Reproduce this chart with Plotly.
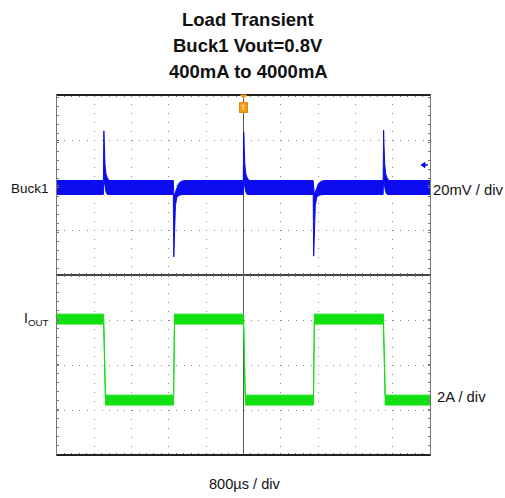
import plotly.graph_objects as go
from plotly.subplots import make_subplots

# ---------------- data ----------------
# time in ms, trigger at 0; 800 us/div, 10 div
time_range_ms = [-4.0, 4.0]

# Buck1 output deviation, upper / lower envelope of the trace (mV)
buck1_t = [-4.0, -3.005, -2.995, -2.985, -2.97, -2.95, -2.92, -2.88,
           -1.505, -1.495, -1.48, -1.46, -1.43, -1.39, -1.33, -1.25,
           -0.005, 0.005, 0.015, 0.03, 0.05, 0.08, 0.12,
           1.495, 1.505, 1.52, 1.54, 1.57, 1.61, 1.67, 1.75,
           2.995, 3.005, 3.015, 3.03, 3.05, 3.08, 3.12, 4.0]
buck1_hi = [3.1, 3.1, 25.2, 18.0, 10.0, 6.0, 4.2, 3.1,
            3.1, -2.9, -3.5, -2.0, 0.0, 1.8, 2.8, 3.1,
            3.1, 24.8, 18.0, 10.0, 6.0, 4.2, 3.1,
            3.1, -2.9, -3.5, -2.0, 0.0, 1.8, 2.8, 3.1,
            3.1, 25.5, 18.0, 10.0, 6.0, 4.2, 3.1, 3.1]
buck1_lo = [-3.1, -3.1, 4.0, 2.5, 0.0, -2.0, -3.1, -3.1,
            -3.1, -30.8, -18.0, -8.0, -4.5, -3.6, -3.2, -3.1,
            -3.1, 4.0, 2.5, 0.0, -2.0, -3.1, -3.1,
            -3.1, -30.5, -18.0, -8.0, -4.5, -3.6, -3.2, -3.1,
            -3.1, 4.0, 2.5, 0.0, -2.0, -3.1, -3.1, -3.1]

# Output current, upper / lower envelope (A): 4 A <-> 0.4 A steps
iout_t = [-4.0, -3.0, -2.96, -1.5, -1.48, 0.0, 0.04, 1.5, 1.52, 3.0, 3.04, 4.0]
iout_hi = [4.22, 4.22, 0.62, 0.62, 4.22, 4.22, 0.62, 0.62, 4.22, 4.22, 0.62, 0.62]
iout_lo = [3.78, 3.78, 0.18, 0.18, 3.78, 3.78, 0.18, 0.18, 3.78, 3.78, 0.18, 0.18]

# vertical scales: 20 mV/div and 2 A/div, 4 divisions per half screen
mv_range = [-38.9, 41.1]
amp_range = [-2.04, 5.96]
mv_per_div, amp_per_div, ms_per_div = 20, 2, 0.8

title_lines = ["Load Transient", "Buck1 Vout=0.8V", "400mA to 4000mA"]
ch1_label, ch1_scale = "Buck1", "20mV / div"
ch2_label, ch2_scale = "I<sub>OUT</sub>", "2A / div"
time_scale = "800µs / div"
trigger_time = 0.0

BLUE = "#0b0bf0"
GREEN = "#12e012"

# ---------------- figure ----------------
W, H = 505, 498
L, R, T, B = 57, 75, 95, 43
PW, PH = W - L - R, H - T - B


def px(xp):
    return (xp - L) / PW


def py(yp):
    return (H - B - yp) / PH


fig = make_subplots(rows=2, cols=1, shared_xaxes=True, vertical_spacing=0)

fig.add_trace(go.Scatter(x=buck1_t, y=buck1_lo, mode="lines",
                         line=dict(color=BLUE, width=1), hoverinfo="skip", showlegend=False), 1, 1)
fig.add_trace(go.Scatter(x=buck1_t, y=buck1_hi, mode="lines",
                         line=dict(color=BLUE, width=1), fill="tonexty", fillcolor=BLUE,
                         name="Buck1", showlegend=False), 1, 1)
fig.add_trace(go.Scatter(x=iout_t, y=iout_lo, mode="lines",
                         line=dict(color=GREEN, width=1), hoverinfo="skip", showlegend=False), 2, 1)
fig.add_trace(go.Scatter(x=iout_t, y=iout_hi, mode="lines",
                         line=dict(color=GREEN, width=1), fill="tonexty", fillcolor=GREEN,
                         name="IOUT", showlegend=False), 2, 1)

GRID = "#8a8a8a"
TICKC = "#777777"

xcommon = dict(range=time_range_ms, dtick=ms_per_div, tick0=0, showgrid=True, gridcolor=GRID,
               gridwidth=1, griddash="1px,8px", zeroline=True, zerolinecolor="#555555",
               zerolinewidth=1, showline=True, linecolor="#444444", linewidth=1, mirror="ticks",
               ticks="inside", ticklen=2, tickcolor=TICKC, showticklabels=False,
               minor=dict(dtick=ms_per_div / 5, ticks="inside", ticklen=2, tickcolor=TICKC,
                          showgrid=False),
               fixedrange=True)
fig.update_xaxes(**xcommon)


def ycommon(rng, dt):
    return dict(range=rng, dtick=dt, tick0=rng[0], showgrid=True, gridcolor=GRID, gridwidth=1,
                griddash="1px,6.46px", zeroline=False,
                showline=True, linecolor="#777777", linewidth=1, mirror="ticks",
                ticks="inside", ticklen=2, tickcolor=TICKC, showticklabels=False,
                minor=dict(dtick=dt / 5, ticks="inside", ticklen=2, tickcolor=TICKC,
                           showgrid=False),
                fixedrange=True)


fig.update_yaxes(**ycommon(mv_range, mv_per_div), row=1, col=1)
fig.update_yaxes(**ycommon(amp_range, amp_per_div), row=2, col=1)


def center_ticks(rng, dt, over, side):
    return dict(range=rng, dtick=dt, tick0=rng[0], overlaying=over, anchor="free",
                position=0.5, showgrid=False, zeroline=False, showline=False,
                ticks=side, ticklen=2, tickcolor="#555555", showticklabels=False,
                minor=dict(dtick=dt / 5, ticks=side, ticklen=2, tickcolor="#555555"),
                fixedrange=True)


fig.update_layout(
    width=W, height=H,
    margin=dict(l=L, r=R, t=T, b=B, pad=0),
    paper_bgcolor="white", plot_bgcolor="white",
    font=dict(family="Liberation Sans, Arial, sans-serif", color="#111111"),
    showlegend=False,
    yaxis3=center_ticks(mv_range, mv_per_div, "y", "inside"),
    yaxis4=center_ticks(mv_range, mv_per_div, "y", "outside"),
    yaxis5=center_ticks(amp_range, amp_per_div, "y2", "inside"),
    yaxis6=center_ticks(amp_range, amp_per_div, "y2", "outside"),
)
fig.layout.yaxis3.domain = fig.layout.yaxis.domain
fig.layout.yaxis4.domain = fig.layout.yaxis.domain
fig.layout.yaxis5.domain = fig.layout.yaxis2.domain
fig.layout.yaxis6.domain = fig.layout.yaxis2.domain

ann = []
title_y = [19.5, 45.8, 71.3]
for line, yy in zip(title_lines, title_y):
    ann.append(dict(text="<b>%s</b>" % line, x=px(248), y=py(yy), xref="paper", yref="paper",
                    xanchor="center", yanchor="middle", showarrow=False,
                    font=dict(size=18.5, color="#111111")))
ann.append(dict(text=ch1_label, x=px(50.5), y=py(188), xref="paper", yref="paper",
                xanchor="right", yanchor="middle", showarrow=False, font=dict(size=13.5)))
ann.append(dict(text=ch2_label, x=px(50.5), y=py(319), xref="paper", yref="paper",
                xanchor="right", yanchor="middle", showarrow=False, font=dict(size=14)))
ann.append(dict(text=ch1_scale, x=px(431.5), y=py(190), xref="paper", yref="paper",
                xanchor="left", yanchor="middle", showarrow=False, font=dict(size=14.8)))
ann.append(dict(text=ch2_scale, x=px(435), y=py(397), xref="paper", yref="paper",
                xanchor="left", yanchor="middle", showarrow=False, font=dict(size=14.8)))
ann.append(dict(text=time_scale, x=px(244.5), y=py(484), xref="paper", yref="paper",
                xanchor="center", yanchor="middle", showarrow=False, font=dict(size=14.6)))
# trigger marker
ann.append(dict(text="T", x=trigger_time, y=py(107.5), xref="x", yref="paper",
                xanchor="center", yanchor="middle", showarrow=False,
                font=dict(size=7, color="#fff3dc"),
                bgcolor="#f29a1c", bordercolor="#e08a10", borderpad=1, borderwidth=1))
fig.update_layout(annotations=ann)

# darker top / bottom edges of the screen frame
for yy in (0, 1):
    fig.add_shape(type="line", xref="paper", yref="paper", x0=0, x1=1, y0=yy, y1=yy,
                  line=dict(color="#222222", width=2))
# trigger triangle at the top edge
fig.add_shape(type="path", xref="x", yref="paper",
              path="M -0.065,1 L 0.065,1 L 0,0.99 Z",
              fillcolor="#f29a1c", line=dict(color="#f29a1c", width=1))
# channel-1 reference arrow at the right edge
fig.add_shape(type="path", xref="paper", yref="paper",
              path="M %f,%f L %f,%f L %f,%f Z" % (px(421), py(165), px(425), py(162.5),
                                                  px(425), py(167.5)),
              fillcolor=BLUE, line=dict(color=BLUE, width=1))
fig.add_shape(type="line", xref="paper", yref="paper",
              x0=px(424), y0=py(165), x1=px(428), y1=py(165),
              line=dict(color=BLUE, width=1.5))

fig.write_html("out.html", config={"displayModeBar": False},
               post_script="document.body.style.margin='0px';")
